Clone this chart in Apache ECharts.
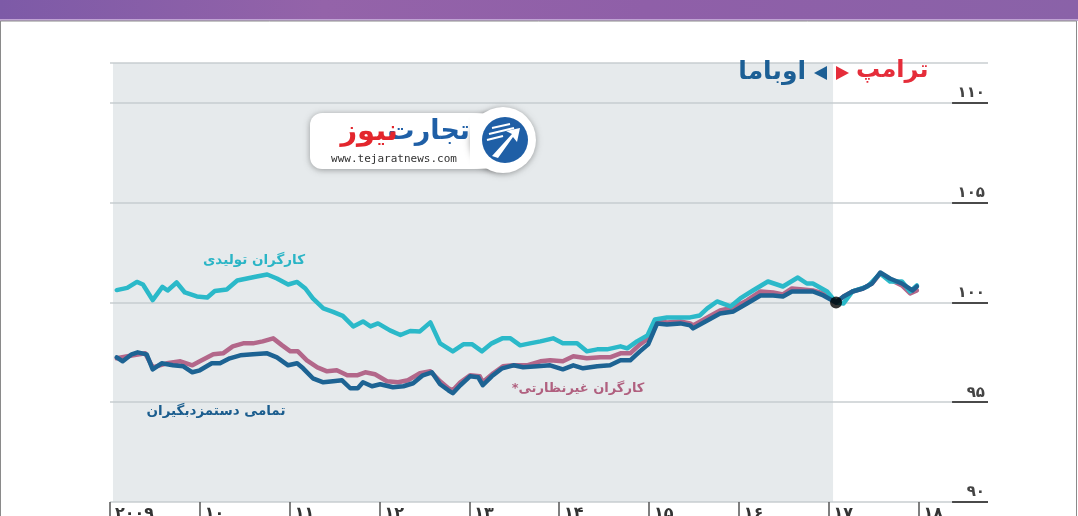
<!DOCTYPE html>
<html><head><meta charset="utf-8">
<script src="https://cdn.jsdelivr.net/npm/echarts@6/dist/echarts.min.js"></script>
<style>html,body{margin:0;padding:0;background:#fff}#c{width:1078px;height:516px}</style>
</head><body><div id="c"></div>
<script>
// x values are month offsets from Jan 2009
const xLabels = ['۲۰۰۹','۱۰','۱۱','۱۲','۱۳','۱۴','۱۵','۱۶','۱۷','۱۸'];
const yTicks = [90, 95, 100, 105, 110];
const yLabels = ['۹۰','۹۵','۱۰۰','۱۰۵','۱۱۰'];

const production = [
[0.9,100.62],[2.3,100.73],[3.6,101.03],[4.4,100.9],[5.7,100.12],[7.0,100.78],[7.7,100.6],[8.9,101.0],
[10.0,100.5],[11.6,100.3],[13.0,100.25],[14.0,100.57],[15.6,100.65],[17.0,101.1],[18.3,101.2],[19.6,101.3],
[21.0,101.4],[22.3,101.2],[23.8,100.9],[25.0,101.03],[26.1,100.7],[27.1,100.2],[28.5,99.7],[29.8,99.53],
[31.1,99.33],[32.5,98.8],[33.8,99.05],[34.8,98.8],[35.8,98.95],[37.4,98.6],[38.8,98.37],[40.1,98.57],
[41.4,98.55],[42.8,99.0],[44.1,97.95],[45.8,97.55],[47.2,97.9],[48.4,97.9],[49.7,97.55],[51.0,97.95],
[52.4,98.2],[53.5,98.2],[54.8,97.85],[56.1,97.95],[57.5,98.05],[59.2,98.2],[60.5,97.95],[62.4,97.95],
[63.7,97.55],[65.1,97.65],[66.4,97.65],[68.2,97.8],[69.1,97.7],[70.4,98.05],[71.8,98.35],[72.8,99.15],
[74.4,99.25],[76.2,99.25],[77.5,99.25],[78.8,99.35],[79.8,99.7],[81.1,100.05],[82.9,99.8],[84.2,100.2],
[85.9,100.6],[87.9,101.05],[89.9,100.8],[91.9,101.25],[93.1,100.95],[93.9,100.95],[95.8,100.55],[97.0,100.0],
[98.0,99.95],[99.2,100.55],[101.2,100.8],[102.9,101.45],[104.2,101.05],[105.8,101.05],[106.9,100.55],[107.8,100.85]
];
const nonSupervisory = [
[0.9,97.2],[3.1,97.35],[4.7,97.45],[5.7,96.75],[7.6,96.95],[9.4,97.05],[11.0,96.85],[12.0,97.05],
[13.8,97.4],[15.1,97.45],[16.4,97.8],[17.8,97.95],[19.1,97.95],[20.4,98.05],[21.8,98.2],[23.0,97.85],
[24.1,97.55],[25.1,97.55],[26.3,97.1],[27.7,96.75],[29.0,96.55],[30.3,96.6],[31.7,96.35],[33.0,96.35],
[34.1,96.5],[35.4,96.4],[37.0,96.05],[38.5,96.0],[39.8,96.1],[41.4,96.45],[42.8,96.55],[44.1,96.05],
[45.2,95.7],[45.8,95.6],[46.8,96.0],[48.1,96.35],[49.4,96.3],[49.8,96.0],[51.2,96.45],[52.5,96.8],
[53.9,96.85],[55.7,96.85],[57.5,97.05],[58.8,97.1],[60.5,97.05],[61.9,97.3],[63.7,97.2],[65.5,97.25],
[66.8,97.25],[68.2,97.45],[69.5,97.45],[70.8,97.9],[71.9,98.2],[73.0,99.1],[74.4,99.0],[76.2,99.05],
[77.5,98.95],[77.9,98.85],[79.8,99.25],[81.5,99.6],[83.3,99.75],[85.1,100.1],[86.9,100.55],[88.6,100.5],
[89.9,100.4],[91.1,100.7],[92.6,100.65],[93.9,100.6],[95.3,100.45],[97.0,100.0],[98.0,100.3],[99.2,100.55],
[100.6,100.7],[101.8,100.95],[102.9,101.45],[104.2,101.15],[105.8,100.85],[106.9,100.45],[107.8,100.6]
];
const allEmployees = [
[0.9,97.25],[1.7,97.05],[2.9,97.4],[3.7,97.5],[4.9,97.4],[5.7,96.65],[6.9,96.95],[8.4,96.85],
[9.8,96.8],[11.0,96.5],[12.0,96.6],[13.6,96.95],[14.7,96.95],[16.0,97.2],[17.4,97.35],[19.1,97.4],
[21.0,97.45],[22.3,97.25],[23.8,96.85],[25.0,96.95],[25.8,96.7],[27.1,96.2],[28.5,96.0],[29.8,96.05],
[31.0,96.1],[32.1,95.7],[33.1,95.7],[33.8,96.0],[35.0,95.8],[36.1,95.9],[37.8,95.75],[39.2,95.8],
[40.5,95.95],[41.8,96.35],[43.0,96.5],[44.1,95.9],[45.2,95.6],[45.8,95.45],[46.8,95.85],[48.1,96.3],
[49.2,96.25],[49.8,95.85],[51.0,96.3],[52.4,96.7],[53.9,96.85],[55.2,96.75],[57.1,96.8],[58.8,96.85],
[60.5,96.65],[61.9,96.85],[63.2,96.7],[65.1,96.8],[66.8,96.85],[68.2,97.1],[69.5,97.1],[70.8,97.55],
[71.9,97.9],[73.1,98.95],[74.4,98.9],[76.2,98.95],[77.5,98.85],[77.9,98.7],[79.8,99.1],[81.5,99.45],
[83.3,99.55],[85.1,99.95],[86.9,100.35],[88.6,100.35],[89.9,100.3],[91.1,100.55],[92.6,100.55],[93.9,100.55],
[95.3,100.35],[97.0,100.0],[98.0,100.3],[99.2,100.55],[100.6,100.7],[101.8,100.95],[102.9,101.5],[104.2,101.2],
[105.8,100.95],[107.2,100.6],[107.8,100.8]
];
const obamaRange = [0.4, 96.6];
const handover = [97.0, 100];
const xMax = 117.3;
const underlineStart = 112.5;

const AR = '"DejaVu Sans", sans-serif';
const chart = echarts.init(document.getElementById('c'), null, {renderer: 'canvas'});

function lineSeries(name, data, color, z) {
  return {
    name, type: 'line', data, z,
    showSymbol: false, symbol: 'none', smooth: false,
    lineStyle: {color, width: 4.5, join: 'round', cap: 'round'},
    animation: false
  };
}
const Z = 20;
chart.setOption({
  animation: false,
  grid: {left: 110, right: 90, top: 63, bottom: 14, outerBoundsMode: 'none', containLabel: false},
  xAxis: {
    type: 'value', min: 0, max: xMax, interval: 12,
    axisLine: {show: false},
    splitLine: {show: false},
    axisTick: {show: true, length: 22, customValues: xLabels.map((_, i) => i * 12),
      lineStyle: {color: '#555', width: 1.5}},
    axisLabel: {
      customValues: xLabels.map((_, i) => i * 12),
      formatter: v => xLabels[Math.round(v / 12)] || '',
      align: 'left', margin: 4, padding: [0, 0, 0, 5],
      color: '#333', fontFamily: AR, fontWeight: 'bold', fontSize: 16
    }
  },
  yAxis: {
    type: 'value', position: 'right', min: 90, max: 112, interval: 5,
    axisLine: {show: false}, axisTick: {show: false},
    splitLine: {show: true, lineStyle: {color: '#c9ced1', width: 1.5}},
    axisLabel: {
      inside: true, customValues: yTicks,
      formatter: v => yLabels[yTicks.indexOf(v)] || '',
      verticalAlign: 'bottom', margin: 3, padding: [0, 0, 2, 0],
      color: '#444', fontFamily: AR, fontWeight: 'bold', fontSize: 15
    }
  },
  series: [
    {
      type: 'line', data: [], z: 1, silent: true,
      markArea: {silent: true, itemStyle: {color: 'rgba(196,204,209,0.42)'},
        data: [[{coord: [obamaRange[0], 90]}, {coord: [obamaRange[1], 112]}]]},
      markLine: {silent: true, symbol: 'none', label: {show: false},
        lineStyle: {color: '#4a4a4a', width: 2, type: 'solid'},
        data: yTicks.map(v => [{coord: [underlineStart, v]}, {coord: [xMax, v]}])}
    },
    lineSeries('کارگران غیرنظارتی', nonSupervisory, '#b3678a', 3),
    lineSeries('کارگران تولیدی', production, '#2bb9c9', 4),
    lineSeries('تمامی دستمزدبگیران', allEmployees, '#1d6393', 5),
    {type: 'scatter', data: [handover], symbolSize: 12, z: 6,
      itemStyle: {color: '#000'}, animation: false}
  ],
  graphic: [
    {type: 'rect', z: Z, shape: {x: 0, y: 0, width: 1078, height: 19},
      style: {fill: new echarts.graphic.LinearGradient(0, 0, 1, 0, [
        {offset: 0, color: '#7d5aa7'}, {offset: 0.3, color: '#9463a9'},
        {offset: 0.6, color: '#8f5fa8'}, {offset: 1, color: '#8a62a8'}])}},
    {type: 'rect', z: Z, shape: {x: 0, y: 19, width: 1078, height: 2}, style: {fill: '#c0a3d4'}},
    {type: 'rect', z: Z, shape: {x: 0.5, y: 21, width: 1076, height: 500},
      style: {fill: 'none', stroke: '#8a8a8a', lineWidth: 1}},
    // title
    {type: 'text', z: Z, x: 806, y: 72, style: {text: 'اوباما', fill: '#1c5f95', font: 'bold 25px "DejaVu Sans"', align: 'right', verticalAlign: 'middle'}},
    {type: 'polygon', z: Z, shape: {points: [[827, 66], [827, 80], [814, 73]]}, style: {fill: '#1c5f95'}},
    {type: 'polygon', z: Z, shape: {points: [[836, 66], [836, 80], [849, 73]]}, style: {fill: '#e52d3a'}},
    {type: 'text', z: Z, x: 856, y: 71, style: {text: 'ترامپ', fill: '#e52d3a', font: 'bold 24px "DejaVu Sans"', align: 'left', verticalAlign: 'middle'}},
    // series labels
    {type: 'text', z: Z, x: 254, y: 260, style: {text: 'کارگران تولیدی', fill: '#2bb5c6', font: 'bold 13.5px "DejaVu Sans"', align: 'center', verticalAlign: 'middle'}},
    {type: 'text', z: Z, x: 216, y: 411, style: {text: 'تمامی دستمزدبگیران', fill: '#1b5d8e', font: 'bold 13.5px "DejaVu Sans"', align: 'center', verticalAlign: 'middle'}},
    {type: 'text', z: Z, x: 578, y: 389, style: {text: '*کارگران غیرنظارتی', fill: '#b0607f', font: 'bold 13px "DejaVu Sans"', align: 'center', verticalAlign: 'middle'}},
    // logo
    {type: 'rect', z: Z, shape: {x: 310, y: 113, width: 200, height: 56, r: 12},
      style: {fill: '#fff', shadowBlur: 6, shadowColor: 'rgba(0,0,0,0.35)', shadowOffsetY: 1}},
    {type: 'circle', z: Z, shape: {cx: 503, cy: 140, r: 33},
      style: {fill: '#fff', shadowBlur: 6, shadowColor: 'rgba(0,0,0,0.35)', shadowOffsetY: 1}},
    {type: 'rect', z: Z + 1, shape: {x: 470, y: 114, width: 40, height: 54}, style: {fill: '#fff'}},
    {type: 'circle', z: Z + 2, shape: {cx: 505, cy: 140, r: 23}, style: {fill: '#1f5fa6'}},
    {type: 'line', z: Z + 3, shape: {x1: 492, y1: 128, x2: 510, y2: 124}, style: {stroke: '#fff', lineWidth: 2}},
    {type: 'line', z: Z + 3, shape: {x1: 489, y1: 134, x2: 514, y2: 128}, style: {stroke: '#fff', lineWidth: 2}},
    {type: 'line', z: Z + 3, shape: {x1: 487, y1: 140, x2: 503, y2: 136}, style: {stroke: '#fff', lineWidth: 2}},
    {type: 'polygon', z: Z + 3, shape: {points: [[492, 156], [512, 134], [506, 131], [520, 128], [517, 142], [513, 137], [498, 158]]}, style: {fill: '#fff'}},
    {type: 'text', z: Z + 3, x: 470, y: 132, style: {text: 'تجارت', fill: '#1f5fa6', font: 'bold 27px "DejaVu Sans"', align: 'right', verticalAlign: 'middle'}},
    {type: 'text', z: Z + 3, x: 398, y: 132, style: {text: 'نیوز', fill: '#e3262d', font: 'bold 29px "DejaVu Sans"', align: 'right', verticalAlign: 'middle'}},
    {type: 'text', z: Z + 3, x: 394, y: 159, style: {text: 'www.tejaratnews.com', fill: '#333', font: '11px "DejaVu Sans Mono"', align: 'center', verticalAlign: 'middle'}}
  ]
});
</script></body></html>
